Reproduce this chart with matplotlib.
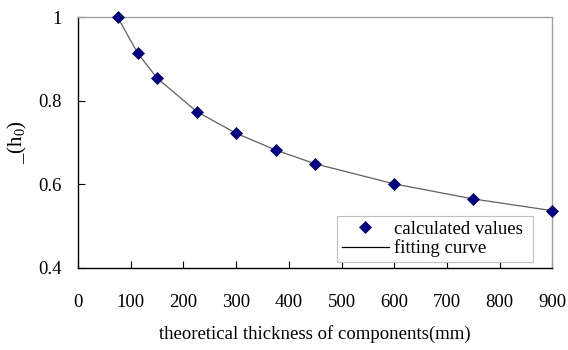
import matplotlib
matplotlib.use("Agg")
import matplotlib.pyplot as plt

plt.rcParams['font.family'] = ['Liberation Serif', 'DejaVu Serif']
plt.rcParams['mathtext.fontset'] = 'custom'
plt.rcParams['mathtext.rm'] = 'Liberation Serif'
plt.rcParams['mathtext.it'] = 'Liberation Serif:italic'

thickness = [75, 113, 150, 225, 300, 375, 450, 600, 750, 900]
calculated = [1.0, 0.914, 0.854, 0.774, 0.722, 0.682, 0.649, 0.601, 0.565, 0.537]
fit_x = thickness
fit_y = calculated

xticks = [0, 100, 200, 300, 400, 500, 600, 700, 800, 900]
yticks = [0.4, 0.6, 0.8, 1.0]
ytick_labels = ['0.4', '0.6', '0.8', '1']

fig = plt.figure(figsize=(5.68, 3.5), dpi=100)
ax = fig.add_axes([0.1373, 0.2343, 0.8354, 0.7171])

ax.plot(fit_x, fit_y, color='#606060', lw=0.9, label='fitting curve', zorder=2)
ax.plot(thickness, calculated, linestyle='none', marker='D', markersize=6,
        markerfacecolor='#000080', markeredgecolor='#000050', markeredgewidth=0.5,
        label='calculated values', zorder=3, clip_on=False)

ax.set_xlim(0, 900)
ax.set_ylim(0.4, 1.0)
ax.set_xticks(xticks)
ax.set_xticklabels([str(v) for v in xticks])
ax.set_yticks(yticks)
ax.set_yticklabels(ytick_labels)
ax.tick_params(direction='in', length=5, width=0.8, labelsize=13.5, colors='black')
ax.tick_params(axis='x', pad=19)
ax.tick_params(axis='y', pad=12)

for s in ['left', 'bottom']:
    ax.spines[s].set_color('black')
    ax.spines[s].set_linewidth(1.0)
for s in ['top', 'right']:
    ax.spines[s].set_color('#a0a0a0')
    ax.spines[s].set_linewidth(1.0)

ax.set_xlabel('theoretical thickness of components(mm)', fontsize=13.5, labelpad=10)
ax.set_ylabel(r'_(h$_{0}$)', fontsize=15, labelpad=6)

handles, labels = ax.get_legend_handles_labels()
leg = ax.legend([handles[1], handles[0]], [labels[1], labels[0]],
                loc='lower left', bbox_to_anchor=(0.546, 0.024, 0.413, 0.195),
                mode='expand', fontsize=13.5, frameon=True, fancybox=False,
                edgecolor='#c0c0c0', framealpha=1, handlelength=2.5,
                borderpad=0.25, labelspacing=0.1, handletextpad=0.3, borderaxespad=0)
leg.get_frame().set_linewidth(0.8)
leg.legend_handles[1].set_color('black')

fig.savefig('out.png', dpi=100)
